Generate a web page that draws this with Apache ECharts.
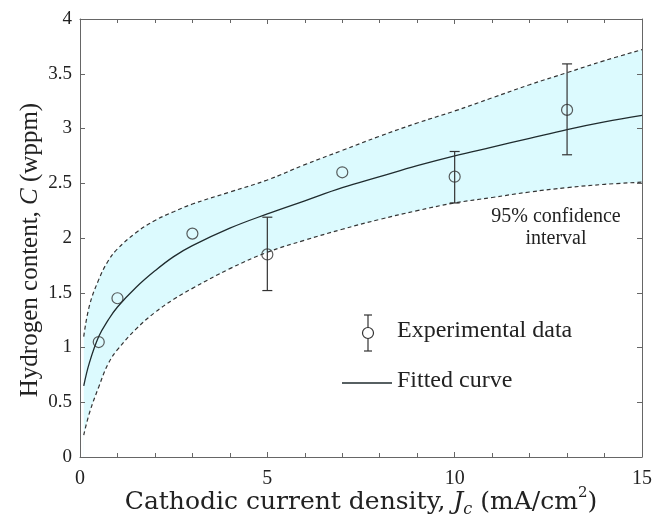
<!DOCTYPE html>
<html>
<head>
<meta charset="utf-8">
<script src="https://cdn.jsdelivr.net/npm/echarts@6/dist/echarts.min.js"></script>
<style>
  html, body { margin: 0; padding: 0; background: #fff; }
  #main { width: 654px; height: 519px; }
</style>
</head>
<body>
<div id="main"></div>
<script>
// values
var curveJ = [0.1, 0.25, 0.5, 0.75, 1, 1.5, 2, 2.5, 3, 4, 5, 6, 7, 8, 9, 10, 11, 12, 13, 14, 15];
var fitC   = [0.65, 0.86, 1.10, 1.25, 1.37, 1.55, 1.70, 1.83, 1.93, 2.09, 2.22, 2.34, 2.46, 2.56, 2.66, 2.75, 2.83, 2.91, 2.99, 3.06, 3.12];
var upperC = [1.10, 1.38, 1.62, 1.79, 1.90, 2.05, 2.16, 2.24, 2.31, 2.42, 2.53, 2.67, 2.80, 2.93, 3.05, 3.16, 3.28, 3.40, 3.51, 3.62, 3.72];
var lowerC = [0.20, 0.40, 0.64, 0.85, 0.98, 1.17, 1.32, 1.44, 1.54, 1.72, 1.87, 1.98, 2.08, 2.17, 2.25, 2.32, 2.37, 2.42, 2.46, 2.49, 2.51];

var expJ = [0.5, 1, 3, 5, 7, 10, 13];
var expC = [1.05, 1.45, 2.04, 1.85, 2.60, 2.56, 3.17];

var errJ    = [5, 10, 13];
var errLow  = [1.52, 2.32, 2.76];
var errHigh = [2.19, 2.79, 3.59];

var xTicks = [0, 5, 10, 15];

var font = 'Liberation Serif';
var ink = '#222';

function pairs(xs, ys) {
  return xs.map(function (x, i) { return [x, ys[i]]; });
}

var chart = echarts.init(document.getElementById('main'));

var axisLine = { show: true, onZero: false, lineStyle: { color: '#666', width: 1 } };
var tick = { inside: true, length: 5, lineStyle: { color: '#666' } };

var option = {
  animation: false,
  grid: { left: 80, top: 19, right: 12, bottom: 62, containLabel: false, outerBoundsMode: 'none' },
  xAxis: [{
    type: 'value', min: 0, max: 15, interval: 5, z: 10,
    axisLine: axisLine,
    axisTick: tick,
    minorTick: { show: true, splitNumber: 5, length: 4, lineStyle: { color: '#666' } },
    splitLine: { show: false },
    axisLabel: {
      margin: 12, fontFamily: font, fontSize: 20, color: ink,
      formatter: function (v) { return xTicks.indexOf(v) >= 0 ? String(v) : ''; }
    },
    name: '{n|Cathodic current density, }{i|J}{sub|c}{n| (mA/cm}{sup|2}{n|)}',
    nameLocation: 'middle', nameGap: 29, nameMoveOverlap: false,
    nameTextStyle: {
      rich: {
        n: { fontFamily: 'DejaVu Serif', fontSize: 25, color: ink, lineHeight: 32 },
        i: { fontFamily: 'DejaVu Serif', fontSize: 25, fontStyle: 'italic', color: ink, lineHeight: 32 },
        sub: { fontFamily: 'DejaVu Serif', fontSize: 16, fontStyle: 'italic', color: ink, lineHeight: 32, verticalAlign: 'bottom' },
        sup: { fontFamily: 'DejaVu Serif', fontSize: 15, color: ink, lineHeight: 32, verticalAlign: 'top' }
      }
    }
  }, {
    type: 'value', min: 0, max: 15, interval: 5, position: 'top', z: 10,
    axisLine: axisLine,
    axisTick: tick,
    minorTick: { show: true, splitNumber: 5, length: 4, lineStyle: { color: '#666' } },
    splitLine: { show: false },
    axisLabel: { show: false }
  }],
  yAxis: [{
    type: 'value', min: 0, max: 4, interval: 0.5, z: 10,
    axisLine: axisLine,
    axisTick: tick,
    splitLine: { show: false },
    axisLabel: { margin: 8, fontFamily: font, fontSize: 19, color: ink },
    name: '{n|Hydrogen content, }{i|C}{n| (wppm)}',
    nameLocation: 'middle', nameGap: 37, nameRotate: 90, nameMoveOverlap: false,
    nameTextStyle: {
      padding: [0, 24, 0, 0],
      rich: {
        n: { fontFamily: font, fontSize: 25, color: ink },
        i: { fontFamily: font, fontSize: 25, fontStyle: 'italic', color: ink }
      }
    }
  }, {
    type: 'value', min: 0, max: 4, interval: 0.5, position: 'right', z: 10,
    axisLine: axisLine,
    axisTick: tick,
    splitLine: { show: false },
    axisLabel: { show: false }
  }],
  series: [
    {
      // upper bound: dashed line, band colour below it
      type: 'line', data: pairs(curveJ, upperC), showSymbol: false, smooth: 0.4,
      lineStyle: { color: '#333', width: 1.2, type: [4, 3] },
      areaStyle: { color: '#dcfafe', opacity: 1 }, silent: true
    },
    {
      // lower bound: dashed line, white below it closes the band
      type: 'line', data: pairs(curveJ, lowerC), showSymbol: false, smooth: 0.4,
      lineStyle: { color: '#333', width: 1.2, type: [4, 3] },
      areaStyle: { color: '#ffffff', opacity: 1 }, silent: true
    },
    {
      type: 'line', data: pairs(curveJ, fitC), showSymbol: false, smooth: 0.4,
      lineStyle: { color: '#1f2b2e', width: 1.3 }
    },
    {
      type: 'custom',
      data: errJ.map(function (x, i) { return [x, errLow[i], errHigh[i]]; }),
      renderItem: function (params, api) {
        var x = api.value(0);
        var lo = api.coord([x, api.value(1)]);
        var hi = api.coord([x, api.value(2)]);
        var w = 5;
        var st = { stroke: '#333', lineWidth: 1.2 };
        return {
          type: 'group',
          children: [
            { type: 'line', shape: { x1: lo[0], y1: lo[1], x2: hi[0], y2: hi[1] }, style: st },
            { type: 'line', shape: { x1: lo[0] - w, y1: lo[1], x2: lo[0] + w, y2: lo[1] }, style: st },
            { type: 'line', shape: { x1: hi[0] - w, y1: hi[1], x2: hi[0] + w, y2: hi[1] }, style: st }
          ]
        };
      },
      z: 4
    },
    {
      type: 'scatter', data: pairs(expJ, expC), symbol: 'circle', symbolSize: 11,
      itemStyle: { color: 'rgba(0,0,0,0)', borderColor: '#333', borderWidth: 1.2 }, z: 5
    }
  ],
  graphic: [
    // legend: experimental data
    { type: 'line', z: 100, shape: { x1: 368, y1: 315, x2: 368, y2: 351 }, style: { stroke: '#333', lineWidth: 1.2 } },
    { type: 'line', z: 100, shape: { x1: 364, y1: 315, x2: 372, y2: 315 }, style: { stroke: '#333', lineWidth: 1.2 } },
    { type: 'line', z: 100, shape: { x1: 364, y1: 351, x2: 372, y2: 351 }, style: { stroke: '#333', lineWidth: 1.2 } },
    { type: 'circle', z: 101, shape: { cx: 368, cy: 333, r: 5.5 }, style: { fill: '#fff', stroke: '#333', lineWidth: 1.2 } },
    { type: 'text', z: 100, left: 397, top: 319, style: { text: 'Experimental data', font: '24px "Liberation Serif"', fill: ink } },
    // legend: fitted curve
    { type: 'line', z: 100, shape: { x1: 342, y1: 383, x2: 392, y2: 383 }, style: { stroke: '#1f2b2e', lineWidth: 1.3 } },
    { type: 'text', z: 100, left: 397, top: 369, style: { text: 'Fitted curve', font: '24px "Liberation Serif"', fill: ink } },
    // band annotation
    {
      type: 'text', z: 100, x: 556, y: 206,
      style: { text: '95% confidence\ninterval', font: '20px "Liberation Serif"', fill: ink, align: 'center', lineHeight: 22 }
    }
  ]
};

chart.setOption(option);
</script>
</body>
</html>
